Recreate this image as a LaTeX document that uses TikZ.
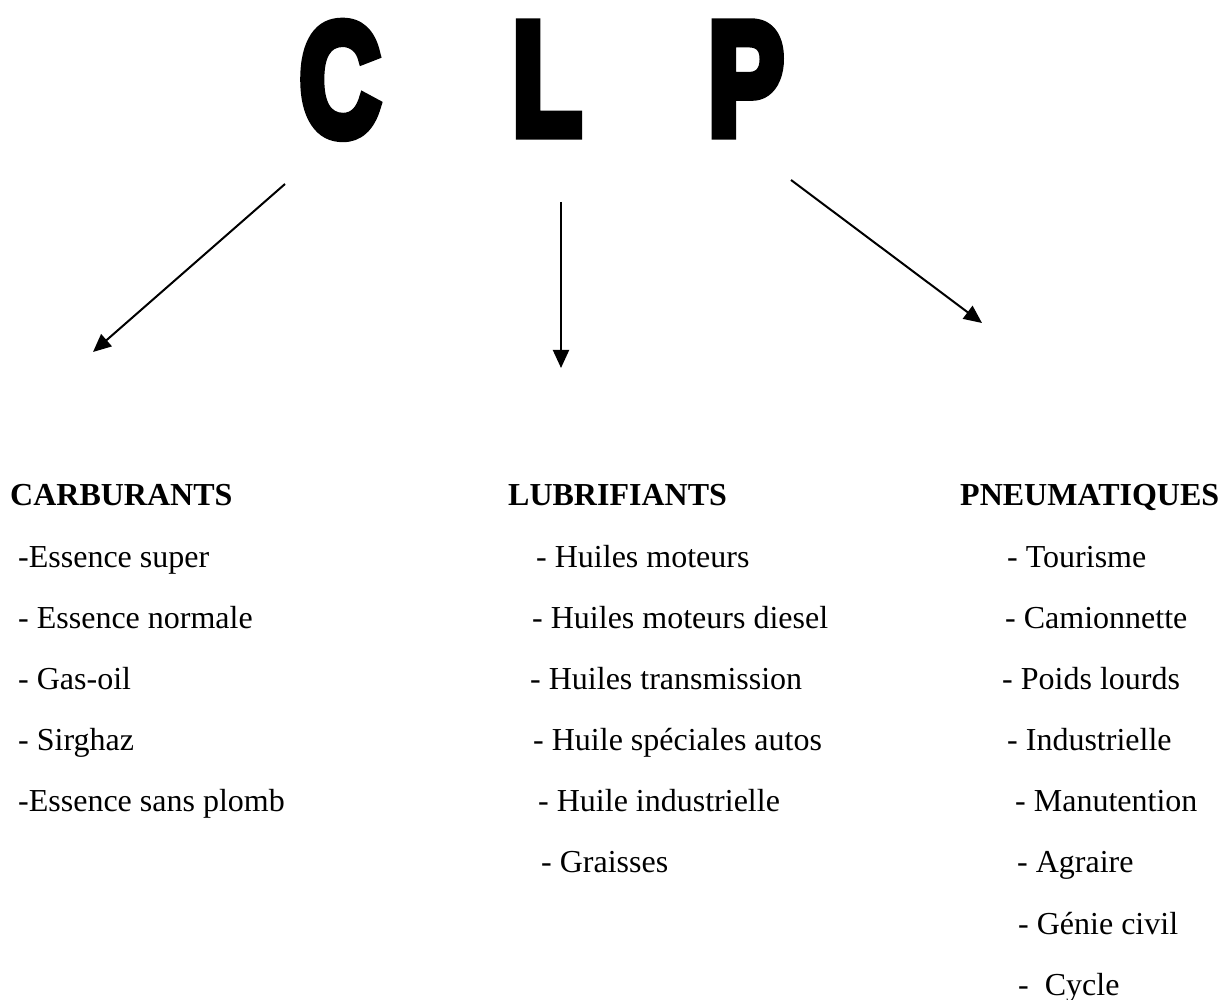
\documentclass[tikz,border=0pt]{standalone}
\usepackage{fontspec}
\setmainfont{Liberation Serif}
\newfontfamily\clpfont{Liberation Sans}[BoldFeatures={FakeBold=7}]
\usetikzlibrary{arrows.meta}
\begin{document}
\begin{tikzpicture}[x=1pt,y=-1pt,
  bigletter/.style={anchor=base,inner sep=0pt,font=\clpfont\bfseries\fontsize{160}{160}\selectfont},
  heading/.style={anchor=base west,inner sep=0pt,font=\bfseries\fontsize{32}{32}\selectfont},
  item/.style={anchor=base west,inner sep=0pt,font=\fontsize{32}{32}\selectfont},
  conn/.style={line width=2pt,-{Triangle[length=18pt,width=16pt]}}]
\useasboundingbox (0,0) rectangle (1232,1000);
% big letters
\node[bigletter] (C) at (340,135) {\scalebox{0.70}[1]{C}};
\node[bigletter] (L) at (547,134) {\scalebox{0.71}[1]{L}};
\node[bigletter] (P) at (746,134) {\scalebox{0.71}[1]{P}};
% arrow endpoints
\coordinate (cs) at (285,184);
\coordinate (ce) at (93,352);
\coordinate (ls) at (561,202);
\coordinate (le) at (561,368);
\coordinate (ps) at (791,180);
\coordinate (pe) at (982,323);
\draw[conn] (cs) -- (ce);
\draw[conn] (ls) -- (le);
\draw[conn] (ps) -- (pe);
% headings
\node[heading] (hC) at (10,505) {CARBURANTS};
\node[heading] (hL) at (508,505) {LUBRIFIANTS};
\node[heading] (hP) at (960,505) {PNEUMATIQUES};
% carburants
\node[item] (c1) at (18,567) {-Essence super};
\node[item] (c2) at (18,628) {- Essence normale};
\node[item] (c3) at (18,689) {- Gas-oil};
\node[item] (c4) at (18,750) {- Sirghaz};
\node[item] (c5) at (18,811) {-Essence sans plomb};
% lubrifiants
\node[item] (l1) at (536,567) {- Huiles moteurs};
\node[item] (l2) at (532,628) {- Huiles moteurs diesel};
\node[item] (l3) at (530,689) {- Huiles transmission};
\node[item] (l4) at (533,750) {- Huile spéciales autos};
\node[item] (l5) at (538,811) {- Huile industrielle};
\node[item] (l6) at (541,872) {- Graisses};
% pneumatiques
\node[item] (p1) at (1007,567) {- Tourisme};
\node[item] (p2) at (1005,628) {- Camionnette};
\node[item] (p3) at (1002,689) {- Poids lourds};
\node[item] (p4) at (1007,750) {- Industrielle};
\node[item] (p5) at (1015,811) {- Manutention};
\node[item] (p6) at (1017,872) {- Agraire};
\node[item] (p7) at (1018,934) {- Génie civil};
\node[item] (p8) at (1018,995) {-\ \ Cycle};
\end{tikzpicture}
\end{document}
